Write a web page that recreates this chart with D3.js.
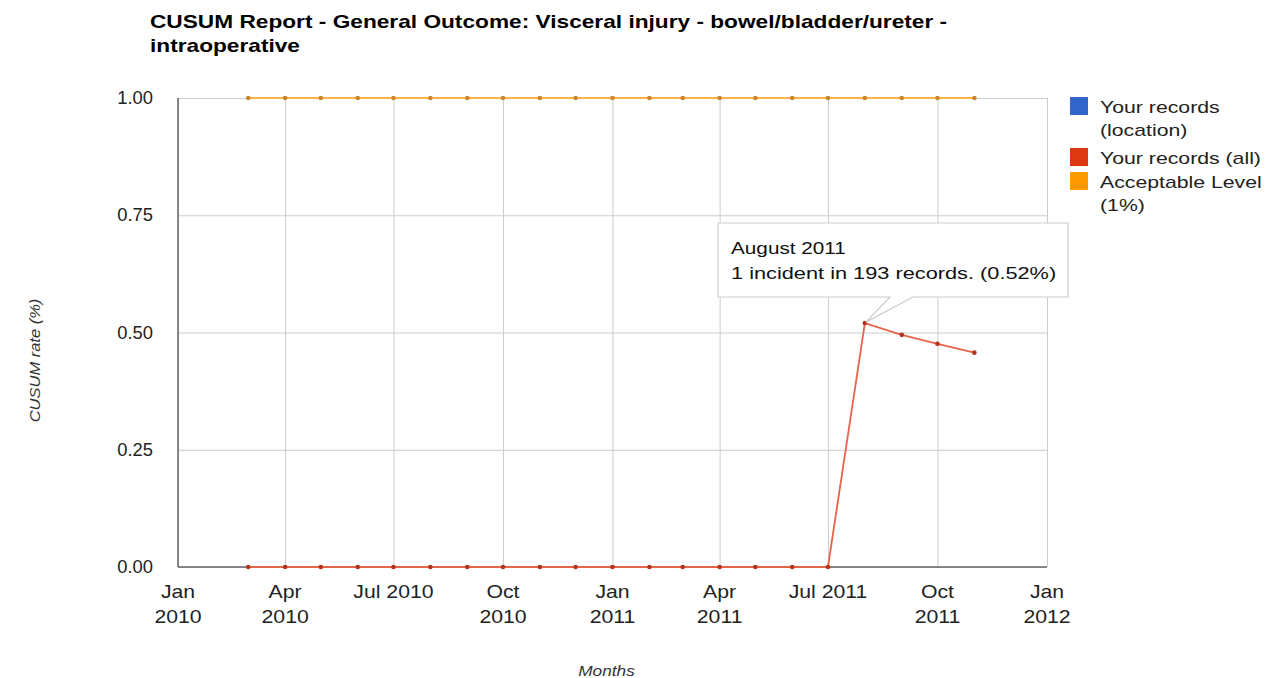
<!DOCTYPE html>
<html>
<head>
<meta charset="utf-8">
<script src="https://cdn.jsdelivr.net/npm/d3@7"></script>
<style>
  html, body { margin: 0; padding: 0; background: #fff; }
  svg { display: block; font-family: "Liberation Sans", Arial, Helvetica, sans-serif; }
</style>
</head>
<body>
<svg id="chart" width="1268" height="678"></svg>
<script>
// Monthly CUSUM values (%), March 2010 – November 2011
const months = [
  "2010-03", "2010-04", "2010-05", "2010-06", "2010-07", "2010-08", "2010-09",
  "2010-10", "2010-11", "2010-12", "2011-01", "2011-02", "2011-03", "2011-04",
  "2011-05", "2011-06", "2011-07", "2011-08", "2011-09", "2011-10", "2011-11"
];
const allRecords = [
  0, 0, 0, 0, 0, 0, 0, 0, 0, 0, 0, 0, 0, 0, 0, 0, 0, 0.52, 0.495, 0.476, 0.457
];
const acceptableLevel = [
  1, 1, 1, 1, 1, 1, 1, 1, 1, 1, 1, 1, 1, 1, 1, 1, 1, 1, 1, 1, 1
];
const locationRecords = []; // no location data in this period

const xTickDates = ["2010-01", "2010-04", "2010-07", "2010-10", "2011-01", "2011-04", "2011-07", "2011-10", "2012-01"];
const xTickLabels = [["Jan", "2010"], ["Apr", "2010"], ["Jul 2010"], ["Oct", "2010"], ["Jan", "2011"],
                     ["Apr", "2011"], ["Jul 2011"], ["Oct", "2011"], ["Jan", "2012"]];
const yTicks = [0, 0.25, 0.5, 0.75, 1];

const legendLabels = [["Your records", "(location)"], ["Your records (all)"], ["Acceptable Level", "(1%)"]];
const seriesColors = ["#3366cc", "#dc3912", "#ff9900"];

// Highlighted point
const tipIndex = 17;
const tipMonthName = "August 2011";
const tipIncidents = 1;
const tipRecords = 193;

const parse = d3.timeParse("%Y-%m");
const svg = d3.select("#chart");
const plot = { left: 178, right: 1047, top: 98, bottom: 567 };
const WIDE = 1.2; // horizontal text stretch

const x = d3.scaleTime()
  .domain([parse("2010-01"), parse("2012-01")])
  .range([plot.left, plot.right]);
const y = d3.scaleLinear()
  .domain([0, 1])
  .range([plot.bottom, plot.top]);

// Text helper: places a label at (tx, ty) with a horizontal stretch
function label(parent, tx, ty, str, o = {}) {
  return parent.append("text")
    .attr("transform", `translate(${tx},${ty}) rotate(${o.rotate || 0}) scale(${o.sx || WIDE},1)`)
    .attr("text-anchor", o.anchor || "start")
    .attr("font-size", o.size || 18)
    .attr("font-weight", o.weight || null)
    .attr("font-style", o.style || null)
    .attr("fill", o.fill || "#222")
    .text(str);
}

// Title
label(svg, 150, 28, "CUSUM Report - General Outcome: Visceral injury - bowel/bladder/ureter -",
  { size: 18, weight: "bold", fill: "#000", sx: 1.26 });
label(svg, 150, 52, "intraoperative", { size: 18, weight: "bold", fill: "#000", sx: 1.26 });

// Y axis gridlines
const yAxis = svg.append("g")
  .attr("transform", `translate(${plot.left},0)`)
  .call(d3.axisLeft(y).tickValues(yTicks).tickFormat("")
    .tickSize(-(plot.right - plot.left)));
yAxis.select(".domain").remove();
yAxis.selectAll(".tick line").attr("stroke", "#cccccc").attr("stroke-width", 1);
yTicks.forEach(v => {
  label(svg, 153, y(v) + 6, d3.format(".2f")(v), { anchor: "end", size: 18, sx: 1.02 });
});

// X axis gridlines
const xAxis = svg.append("g")
  .attr("transform", `translate(0,${plot.bottom})`)
  .call(d3.axisBottom(x).tickValues(xTickDates.map(parse))
    .tickSize(-(plot.bottom - plot.top)).tickFormat(""));
xAxis.select(".domain").remove();
xAxis.selectAll(".tick line").attr("stroke", "#cccccc").attr("stroke-width", 1);
xTickDates.forEach((d, i) => {
  xTickLabels[i].forEach((line, j) => {
    label(svg, x(parse(d)), plot.bottom + 31 + j * 25, line, { anchor: "middle", size: 18, sx: 1.18 });
  });
});

// Baselines
svg.append("line")
  .attr("x1", plot.left).attr("x2", plot.right)
  .attr("y1", y(0)).attr("y2", y(0))
  .attr("stroke", "#666").attr("stroke-width", 1.5);
svg.append("line")
  .attr("x1", x(parse("2010-01"))).attr("x2", x(parse("2010-01")))
  .attr("y1", plot.top).attr("y2", plot.bottom)
  .attr("stroke", "#666").attr("stroke-width", 1.5);

// Axis titles
label(svg, 40, (plot.top + plot.bottom) / 2 + 28, "CUSUM rate (%)",
  { anchor: "middle", size: 15, style: "italic", rotate: -90, sx: 1.1, fill: "#333" });
label(svg, (plot.left + plot.right) / 2 - 6, 676, "Months",
  { anchor: "middle", size: 15, style: "italic", sx: 1.15, fill: "#333" });

// Series
const dates = months.map(parse);
const line = d3.line().x(d => x(d[0])).y(d => y(d[1]));
function drawSeries(values, color, dotColor) {
  const pts = values.map((v, i) => [dates[i], v]);
  svg.append("path").datum(pts)
    .attr("fill", "none").attr("stroke", color).attr("stroke-width", 1.8)
    .attr("d", line);
  svg.append("g").selectAll("circle").data(pts).join("circle")
    .attr("cx", d => x(d[0])).attr("cy", d => y(d[1])).attr("r", 2.3)
    .attr("fill", dotColor);
}
drawSeries(acceptableLevel, "#ffb347", "#c8872e");
drawSeries(allRecords, "#e6654a", "#b5331c");

// Tooltip for the highlighted point
const px = x(dates[tipIndex]), py = y(allRecords[tipIndex]);
const box = { x: 718, y: 223, w: 350, h: 74 };
const tip = svg.append("g");
tip.append("path")
  .attr("d", `M${box.x},${box.y} H${box.x + box.w} V${box.y + box.h} H${913} L${px + 1},${py - 1} L${890},${box.y + box.h} H${box.x} Z`)
  .attr("fill", "#fff").attr("stroke", "#cccccc").attr("stroke-width", 1.2);
label(tip, 731, 254, tipMonthName, { size: 17, fill: "#111", sx: 1.22 });
label(tip, 731, 279,
  `${tipIncidents} incident in ${tipRecords} records. (${allRecords[tipIndex].toFixed(2)}%)`,
  { size: 17, fill: "#111", sx: 1.28 });

// Legend
const legendY = [97, 148, 172];
legendLabels.forEach((lines, i) => {
  const g = svg.append("g").attr("transform", `translate(1070,${legendY[i]})`);
  g.append("rect").attr("width", 18).attr("height", 18).attr("fill", seriesColors[i]);
  lines.forEach((s, j) => {
    label(g, 30, 16 + j * 23, s, { size: 17, sx: 1.25 });
  });
});
</script>
</body>
</html>
